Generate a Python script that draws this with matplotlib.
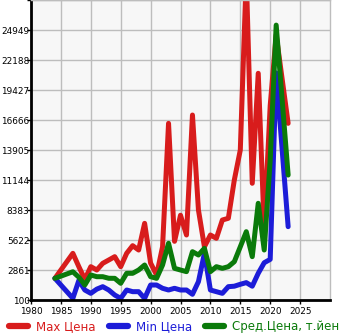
import numpy as np
import matplotlib
matplotlib.use('Agg')
import matplotlib.pyplot as plt

# Datos
anios = [1984, 1987, 1988, 1989, 1990, 1991, 1992, 1993, 1994, 1995, 1996, 1997,
         1998, 1999, 2000, 2001, 2002, 2003, 2004, 2005, 2006, 2007, 2008, 2009,
         2010, 2011, 2012, 2013, 2014, 2015, 2016, 2017, 2018, 2019, 2020, 2021, 2023]

precio_max = [2094, 4395, 3167, 2000, 3167, 2861, 3475, 3780, 4088, 3167, 4400, 5100,
              4700, 7155, 3500, 2400, 5000, 16360, 5500, 7900, 6082, 17125, 8383, 5000,
              6082, 5776, 7462, 7620, 11144, 13905, 30000, 10840, 20965, 6700, 18000, 24500, 16360]

precio_min = [2094, 253, 1900, 1020, 713, 1100, 1327, 1020, 560, 250, 1020, 867,
              867, 250, 1480, 1480, 1177, 1020, 1177, 1020, 1020, 625, 1787, 4400,
              1020, 867, 713, 1327, 1370, 1545, 1700, 1370, 2557, 3530, 3840, 21000, 6850]

precio_medio = [2094, 2700, 2200, 1480, 2400, 2245, 2245, 2100, 2094, 1637, 2557, 2557,
                2861, 3321, 2245, 2094, 3321, 5320, 3014, 2860, 2710, 4548, 4241, 4855,
                2710, 3167, 3014, 3167, 3628, 5000, 6386, 4088, 9000, 4700, 13000, 25400, 11600]

etiquetas = ['Max Цена', 'Min Цена', 'Сред.Цена, т.йен']
colores = ['#d81c1c', '#1c1cd8', '#0a7a0a']

yticks = [100 + k * 2761 for k in range(11)]
xticks = list(range(1980, 2030, 5))

fig = plt.figure(figsize=(3.45, 3.35), dpi=100)
ax = fig.add_axes([31 / 345, 35 / 335, 299 / 345, 300 / 335])
ax.set_facecolor('#f7f7f7')

lineas = []
for serie, color, etiqueta in zip([precio_max, precio_min, precio_medio], colores, etiquetas):
    l, = ax.plot(anios, serie, color=color, linewidth=3.6, solid_capstyle='round',
                 solid_joinstyle='round', label=etiqueta)
    lineas.append(l)

ax.set_xlim(1980, 2030)
ax.set_ylim(100, 27710)
ax.set_xticks(xticks)
ax.set_yticks(yticks)
ax.set_yticklabels([str(v) for v in yticks[:-1]] + [''])
ax.tick_params(axis='both', labelsize=6.4, length=3, width=1)
ax.tick_params(axis='y', pad=-2)
ax.tick_params(axis='x', pad=2)
ax.grid(True, color='#bdbdbd', linewidth=1)
ax.set_axisbelow(True)

for lado in ['top', 'right']:
    ax.spines[lado].set_color('#bdbdbd')
    ax.spines[lado].set_linewidth(1)
for lado in ['left', 'bottom']:
    ax.spines[lado].set_color('black')
    ax.spines[lado].set_linewidth(2)

leg = fig.legend(handles=lineas, loc='lower center', bbox_to_anchor=(0.505, -0.012), ncol=3,
                 frameon=False, fontsize=8.5, handlelength=1.6, handletextpad=0.7,
                 columnspacing=1.1, borderaxespad=0.1)
for texto, color in zip(leg.get_texts(), colores):
    texto.set_color(color)
for h in leg.legend_handles:
    h.set_linewidth(4.5)

fig.savefig('out.png', dpi=100, facecolor='white')
